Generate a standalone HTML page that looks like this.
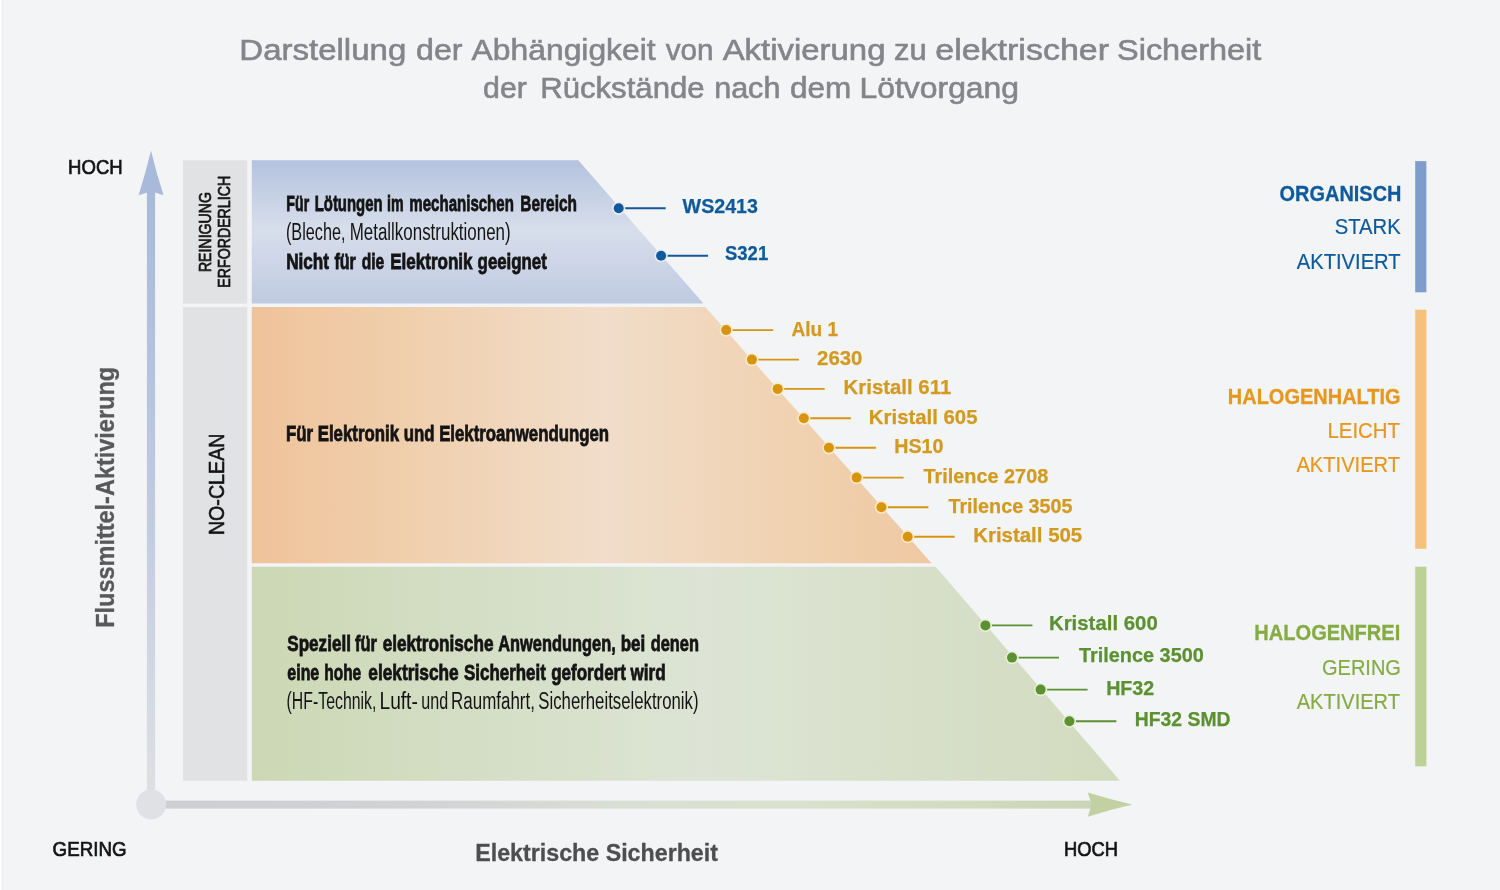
<!DOCTYPE html>
<html lang="de"><head><meta charset="utf-8"><title>Flussmittel</title>
<style>
html,body{margin:0;padding:0;background:#f3f4f6;}
body{width:1500px;height:890px;overflow:hidden;font-family:"Liberation Sans",sans-serif;}
svg{display:block;will-change:transform;}
text{font-family:"Liberation Sans",sans-serif;}
</style></head><body>
<svg width="1500" height="890" viewBox="0 0 1500 890">
<defs>
<linearGradient id="gBlue" x1="0" y1="0" x2="0" y2="1">
<stop offset="0" stop-color="#b3c2de"/><stop offset="0.25" stop-color="#c6d1e5"/><stop offset="0.48" stop-color="#d7deeb"/><stop offset="0.75" stop-color="#cbd4e7"/><stop offset="1" stop-color="#bfcae0"/>
</linearGradient>
<linearGradient id="gOr" gradientUnits="userSpaceOnUse" x1="252" y1="0" x2="935" y2="0">
<stop offset="0" stop-color="#efc39a"/><stop offset="0.27" stop-color="#f0d1b1"/><stop offset="0.51" stop-color="#f1ddca"/><stop offset="0.76" stop-color="#f0d3b3"/><stop offset="1" stop-color="#efc8a2"/>
</linearGradient>
<linearGradient id="gGr" gradientUnits="userSpaceOnUse" x1="252" y1="0" x2="1120" y2="0">
<stop offset="0" stop-color="#ccd8b5"/><stop offset="0.52" stop-color="#dde4d5"/><stop offset="1" stop-color="#d2dbbe"/>
</linearGradient>
<linearGradient id="gV" gradientUnits="userSpaceOnUse" x1="0" y1="190" x2="0" y2="800">
<stop offset="0" stop-color="#a9b9d9"/><stop offset="0.45" stop-color="#bcc8e0"/><stop offset="1" stop-color="#dfe0e3"/>
</linearGradient>
<linearGradient id="gH" gradientUnits="userSpaceOnUse" x1="160" y1="0" x2="1090" y2="0">
<stop offset="0" stop-color="#cdced1"/><stop offset="0.3" stop-color="#d2d3d5"/><stop offset="0.5" stop-color="#dadfd4"/><stop offset="0.68" stop-color="#dae1cd"/><stop offset="0.85" stop-color="#d3dbc1"/><stop offset="1" stop-color="#cbd4b6"/>
</linearGradient>
</defs>
<rect width="1500" height="890" fill="#f3f4f6"/>

<rect x="0" y="0" width="1" height="890" fill="#ffffff"/><rect x="1" y="0" width="1" height="890" fill="#f8f8fa"/><rect x="2" y="0" width="1.5" height="890" fill="#f0f0f3"/>
<rect x="183" y="160.3" width="64.2" height="143.3" fill="#e1e2e4"/>
<rect x="183" y="307.1" width="64.2" height="473.6" fill="#e1e2e4"/>
<polygon points="251.8,160.3 578.3,160.3 703.5,303.6 251.8,303.6" fill="url(#gBlue)"/>
<polygon points="251.8,307.1 705.3,307.1 931.6,563.2 251.8,563.2" fill="url(#gOr)"/>
<polygon points="251.8,566.8 935.7,566.8 1119.9,780.7 251.8,780.7" fill="url(#gGr)"/>
<rect x="146.9" y="190" width="8.2" height="612" fill="url(#gV)"/>
<path d="M151,150.8 Q156.4,173 163.5,195.3 L151,191.3 L138.6,195.3 Q145.6,173 151,150.8Z" fill="#a9b9d9"/>
<rect x="160" y="800.6" width="932" height="8" fill="url(#gH)"/>
<path d="M1132.4,804.6 Q1110,809.8 1087.7,816.7 L1091.7,804.6 L1087.7,792.5 Q1110,799.4 1132.4,804.6Z" fill="#c3d0a2"/>
<circle cx="151.2" cy="804.4" r="15" fill="#e0e1e4"/>
<line x1="618.7" y1="208.3" x2="665.7" y2="208.3" stroke="#12599b" stroke-width="1.9"/>
<circle cx="618.7" cy="208.3" r="6.6" fill="#e8eef7"/>
<circle cx="618.7" cy="208.3" r="5" fill="#12599b"/>
<line x1="661.1" y1="255.7" x2="708.1" y2="255.7" stroke="#12599b" stroke-width="1.9"/>
<circle cx="661.1" cy="255.7" r="6.6" fill="#e8eef7"/>
<circle cx="661.1" cy="255.7" r="5" fill="#12599b"/>
<line x1="726.2" y1="330.1" x2="773.2" y2="330.1" stroke="#d6940f" stroke-width="1.9"/>
<circle cx="726.2" cy="330.1" r="6.6" fill="#fbe9c8"/>
<circle cx="726.2" cy="330.1" r="5" fill="#d6940f"/>
<line x1="751.9" y1="359.6" x2="798.9" y2="359.6" stroke="#d6940f" stroke-width="1.9"/>
<circle cx="751.9" cy="359.6" r="6.6" fill="#fbe9c8"/>
<circle cx="751.9" cy="359.6" r="5" fill="#d6940f"/>
<line x1="777.7" y1="388.9" x2="824.7" y2="388.9" stroke="#d6940f" stroke-width="1.9"/>
<circle cx="777.7" cy="388.9" r="6.6" fill="#fbe9c8"/>
<circle cx="777.7" cy="388.9" r="5" fill="#d6940f"/>
<line x1="803.8" y1="418.3" x2="850.8" y2="418.3" stroke="#d6940f" stroke-width="1.9"/>
<circle cx="803.8" cy="418.3" r="6.6" fill="#fbe9c8"/>
<circle cx="803.8" cy="418.3" r="5" fill="#d6940f"/>
<line x1="828.9" y1="447.8" x2="875.9" y2="447.8" stroke="#d6940f" stroke-width="1.9"/>
<circle cx="828.9" cy="447.8" r="6.6" fill="#fbe9c8"/>
<circle cx="828.9" cy="447.8" r="5" fill="#d6940f"/>
<line x1="856.6" y1="477.6" x2="903.6" y2="477.6" stroke="#d6940f" stroke-width="1.9"/>
<circle cx="856.6" cy="477.6" r="6.6" fill="#fbe9c8"/>
<circle cx="856.6" cy="477.6" r="5" fill="#d6940f"/>
<line x1="881.4" y1="507.2" x2="928.4" y2="507.2" stroke="#d6940f" stroke-width="1.9"/>
<circle cx="881.4" cy="507.2" r="6.6" fill="#fbe9c8"/>
<circle cx="881.4" cy="507.2" r="5" fill="#d6940f"/>
<line x1="907.7" y1="536.7" x2="954.7" y2="536.7" stroke="#d6940f" stroke-width="1.9"/>
<circle cx="907.7" cy="536.7" r="6.6" fill="#fbe9c8"/>
<circle cx="907.7" cy="536.7" r="5" fill="#d6940f"/>
<line x1="985.4" y1="625.4" x2="1032.4" y2="625.4" stroke="#5b9130" stroke-width="1.9"/>
<circle cx="985.4" cy="625.4" r="6.6" fill="#e6efd8"/>
<circle cx="985.4" cy="625.4" r="5" fill="#5b9130"/>
<line x1="1012" y1="657.6" x2="1059" y2="657.6" stroke="#5b9130" stroke-width="1.9"/>
<circle cx="1012" cy="657.6" r="6.6" fill="#e6efd8"/>
<circle cx="1012" cy="657.6" r="5" fill="#5b9130"/>
<line x1="1040.6" y1="689.6" x2="1087.6" y2="689.6" stroke="#5b9130" stroke-width="1.9"/>
<circle cx="1040.6" cy="689.6" r="6.6" fill="#e6efd8"/>
<circle cx="1040.6" cy="689.6" r="5" fill="#5b9130"/>
<line x1="1069.4" y1="721.2" x2="1116.4" y2="721.2" stroke="#5b9130" stroke-width="1.9"/>
<circle cx="1069.4" cy="721.2" r="6.6" fill="#e6efd8"/>
<circle cx="1069.4" cy="721.2" r="5" fill="#5b9130"/>
<text x="239.31" y="60.0" font-size="30.14" font-weight="400" fill="#838588" stroke="#838588" stroke-width="0.6" textLength="166.97" lengthAdjust="spacingAndGlyphs">Darstellung</text>
<text x="416.01" y="60.0" font-size="30.14" font-weight="400" fill="#838588" stroke="#838588" stroke-width="0.6" textLength="46.49" lengthAdjust="spacingAndGlyphs">der</text>
<text x="471.64" y="60.0" font-size="30.14" font-weight="400" fill="#838588" stroke="#838588" stroke-width="0.6" textLength="184.0" lengthAdjust="spacingAndGlyphs">Abhängigkeit</text>
<text x="665.71" y="60.0" font-size="30.14" font-weight="400" fill="#838588" stroke="#838588" stroke-width="0.6" textLength="47.85" lengthAdjust="spacingAndGlyphs">von</text>
<text x="722.65" y="60.0" font-size="30.14" font-weight="400" fill="#838588" stroke="#838588" stroke-width="0.6" textLength="162.85" lengthAdjust="spacingAndGlyphs">Aktivierung</text>
<text x="893.97" y="60.0" font-size="30.14" font-weight="400" fill="#838588" stroke="#838588" stroke-width="0.6" textLength="32.74" lengthAdjust="spacingAndGlyphs">zu</text>
<text x="935.26" y="60.0" font-size="30.14" font-weight="400" fill="#838588" stroke="#838588" stroke-width="0.6" textLength="173.77" lengthAdjust="spacingAndGlyphs">elektrischer</text>
<text x="1117.04" y="60.0" font-size="30.14" font-weight="400" fill="#838588" stroke="#838588" stroke-width="0.6" textLength="144.31" lengthAdjust="spacingAndGlyphs">Sicherheit</text>
<text x="483.14" y="97.6" font-size="30.14" font-weight="400" fill="#838588" stroke="#838588" stroke-width="0.6" textLength="43.78" lengthAdjust="spacingAndGlyphs">der</text>
<text x="540.18" y="97.6" font-size="30.14" font-weight="400" fill="#838588" stroke="#838588" stroke-width="0.6" textLength="164.43" lengthAdjust="spacingAndGlyphs">Rückstände</text>
<text x="714.15" y="97.6" font-size="30.14" font-weight="400" fill="#838588" stroke="#838588" stroke-width="0.6" textLength="66.24" lengthAdjust="spacingAndGlyphs">nach</text>
<text x="789.97" y="97.6" font-size="30.14" font-weight="400" fill="#838588" stroke="#838588" stroke-width="0.6" textLength="61.24" lengthAdjust="spacingAndGlyphs">dem</text>
<text x="859.47" y="97.6" font-size="30.14" font-weight="400" fill="#838588" stroke="#838588" stroke-width="0.6" textLength="159.64" lengthAdjust="spacingAndGlyphs">Lötvorgang</text>
<text x="68.06" y="174.0" font-size="20.43" font-weight="400" fill="#141414" stroke="#141414" stroke-width="0.7" textLength="54.64" lengthAdjust="spacingAndGlyphs">HOCH</text>
<text x="52.61" y="855.7" font-size="20.43" font-weight="400" fill="#141414" stroke="#141414" stroke-width="0.7" textLength="73.85" lengthAdjust="spacingAndGlyphs">GERING</text>
<text x="1064.09" y="855.5" font-size="20.43" font-weight="400" fill="#141414" stroke="#141414" stroke-width="0.7" textLength="54.03" lengthAdjust="spacingAndGlyphs">HOCH</text>
<text x="475.24" y="861.0" font-size="24.78" font-weight="700" fill="#4d4e50" stroke="#4d4e50" stroke-width="0.3" textLength="242.75" lengthAdjust="spacingAndGlyphs">Elektrische Sicherheit</text>
<text transform="translate(113.7,626.40) rotate(-90)" x="-1.42" y="0" font-size="25.51" font-weight="700" fill="#58595b" stroke="#58595b" stroke-width="0.3" textLength="260.88" lengthAdjust="spacingAndGlyphs">Flussmittel-Aktivierung</text>
<text transform="translate(224.3,533.70) rotate(-90)" x="-1.42" y="0" font-size="22.61" font-weight="400" fill="#141414" stroke="#141414" stroke-width="0.6" textLength="101.57" lengthAdjust="spacingAndGlyphs">NO-CLEAN</text>
<text transform="translate(211.0,271.10) rotate(-90)" x="-0.98" y="0" font-size="16.67" font-weight="400" fill="#141414" stroke="#141414" stroke-width="0.7" textLength="80.01" lengthAdjust="spacingAndGlyphs">REINIGUNG</text>
<text transform="translate(229.8,286.70) rotate(-90)" x="-0.99" y="0" font-size="16.67" font-weight="400" fill="#141414" stroke="#141414" stroke-width="0.7" textLength="111.83" lengthAdjust="spacingAndGlyphs">ERFORDERLICH</text>
<text x="285.97" y="440.5" font-size="22.46" font-weight="700" fill="#141414" stroke="#141414" stroke-width="0.8" textLength="323.16" lengthAdjust="spacingAndGlyphs">Für Elektronik und Elektroanwendungen</text>
<text x="286.35" y="210.7" font-size="22.46" font-weight="700" fill="#141414" stroke="#141414" stroke-width="0.8" textLength="22.79" lengthAdjust="spacingAndGlyphs">Für</text>
<text x="314.69" y="210.7" font-size="22.46" font-weight="700" fill="#141414" stroke="#141414" stroke-width="0.8" textLength="67.88" lengthAdjust="spacingAndGlyphs">Lötungen</text>
<text x="387.09" y="210.7" font-size="22.46" font-weight="700" fill="#141414" stroke="#141414" stroke-width="0.8" textLength="16.59" lengthAdjust="spacingAndGlyphs">im</text>
<text x="409.37" y="210.7" font-size="22.46" font-weight="700" fill="#141414" stroke="#141414" stroke-width="0.8" textLength="104.5" lengthAdjust="spacingAndGlyphs">mechanischen</text>
<text x="520.35" y="210.7" font-size="22.46" font-weight="700" fill="#141414" stroke="#141414" stroke-width="0.8" textLength="56.65" lengthAdjust="spacingAndGlyphs">Bereich</text>
<text x="285.94" y="240.0" font-size="23.77" font-weight="400" fill="#141414" textLength="59.51" lengthAdjust="spacingAndGlyphs">(Bleche,</text>
<text x="349.67" y="240.0" font-size="23.77" font-weight="400" fill="#141414" textLength="160.98" lengthAdjust="spacingAndGlyphs">Metallkonstruktionen)</text>
<text x="286.13" y="268.8" font-size="22.46" font-weight="700" fill="#141414" stroke="#141414" stroke-width="0.8" textLength="42.85" lengthAdjust="spacingAndGlyphs">Nicht</text>
<text x="334.45" y="268.8" font-size="22.46" font-weight="700" fill="#141414" stroke="#141414" stroke-width="0.8" textLength="21.39" lengthAdjust="spacingAndGlyphs">für</text>
<text x="361.67" y="268.8" font-size="22.46" font-weight="700" fill="#141414" stroke="#141414" stroke-width="0.8" textLength="22.5" lengthAdjust="spacingAndGlyphs">die</text>
<text x="390.13" y="268.8" font-size="22.46" font-weight="700" fill="#141414" stroke="#141414" stroke-width="0.8" textLength="82.44" lengthAdjust="spacingAndGlyphs">Elektronik</text>
<text x="477.60" y="268.8" font-size="22.46" font-weight="700" fill="#141414" stroke="#141414" stroke-width="0.8" textLength="69.23" lengthAdjust="spacingAndGlyphs">geeignet</text>
<text x="287.25" y="650.6" font-size="22.46" font-weight="700" fill="#141414" stroke="#141414" stroke-width="0.8" textLength="63.67" lengthAdjust="spacingAndGlyphs">Speziell</text>
<text x="355.05" y="650.6" font-size="22.46" font-weight="700" fill="#141414" stroke="#141414" stroke-width="0.8" textLength="21.9" lengthAdjust="spacingAndGlyphs">für</text>
<text x="382.67" y="650.6" font-size="22.46" font-weight="700" fill="#141414" stroke="#141414" stroke-width="0.8" textLength="110.78" lengthAdjust="spacingAndGlyphs">elektronische</text>
<text x="498.28" y="650.6" font-size="22.46" font-weight="700" fill="#141414" stroke="#141414" stroke-width="0.8" textLength="117.43" lengthAdjust="spacingAndGlyphs">Anwendungen,</text>
<text x="620.76" y="650.6" font-size="22.46" font-weight="700" fill="#141414" stroke="#141414" stroke-width="0.8" textLength="24.48" lengthAdjust="spacingAndGlyphs">bei</text>
<text x="650.64" y="650.6" font-size="22.46" font-weight="700" fill="#141414" stroke="#141414" stroke-width="0.8" textLength="48.29" lengthAdjust="spacingAndGlyphs">denen</text>
<text x="287.34" y="680.0" font-size="22.46" font-weight="700" fill="#141414" stroke="#141414" stroke-width="0.8" textLength="31.92" lengthAdjust="spacingAndGlyphs">eine</text>
<text x="324.24" y="680.0" font-size="22.46" font-weight="700" fill="#141414" stroke="#141414" stroke-width="0.8" textLength="36.99" lengthAdjust="spacingAndGlyphs">hohe</text>
<text x="368.29" y="680.0" font-size="22.46" font-weight="700" fill="#141414" stroke="#141414" stroke-width="0.8" textLength="90.42" lengthAdjust="spacingAndGlyphs">elektrische</text>
<text x="464.05" y="680.0" font-size="22.46" font-weight="700" fill="#141414" stroke="#141414" stroke-width="0.8" textLength="81.71" lengthAdjust="spacingAndGlyphs">Sicherheit</text>
<text x="551.19" y="680.0" font-size="22.46" font-weight="700" fill="#141414" stroke="#141414" stroke-width="0.8" textLength="74.72" lengthAdjust="spacingAndGlyphs">gefordert</text>
<text x="630.60" y="680.0" font-size="22.46" font-weight="700" fill="#141414" stroke="#141414" stroke-width="0.8" textLength="35.07" lengthAdjust="spacingAndGlyphs">wird</text>
<text x="286.60" y="709.3" font-size="23.77" font-weight="400" fill="#141414" textLength="89.77" lengthAdjust="spacingAndGlyphs">(HF-Technik,</text>
<text x="379.49" y="709.3" font-size="23.77" font-weight="400" fill="#141414" textLength="38.35" lengthAdjust="spacingAndGlyphs">Luft-</text>
<text x="421.24" y="709.3" font-size="23.77" font-weight="400" fill="#141414" textLength="26.89" lengthAdjust="spacingAndGlyphs">und</text>
<text x="451.09" y="709.3" font-size="23.77" font-weight="400" fill="#141414" textLength="83.82" lengthAdjust="spacingAndGlyphs">Raumfahrt,</text>
<text x="538.30" y="709.3" font-size="23.77" font-weight="400" fill="#141414" textLength="160.19" lengthAdjust="spacingAndGlyphs">Sicherheitselektronik)</text>
<text x="682.62" y="212.60000000000002" font-size="20.36" font-weight="700" fill="#0e5a9b" stroke="#0e5a9b" stroke-width="0.25" textLength="75.33" lengthAdjust="spacingAndGlyphs">WS2413</text>
<text x="724.99" y="260.2" font-size="20.36" font-weight="700" fill="#0e5a9b" stroke="#0e5a9b" stroke-width="0.25" textLength="43.19" lengthAdjust="spacingAndGlyphs">S321</text>
<text x="791.51" y="335.6" font-size="20.36" font-weight="700" fill="#d29a20" stroke="#d29a20" stroke-width="0.25" textLength="46.72" lengthAdjust="spacingAndGlyphs">Alu 1</text>
<text x="817.06" y="365.1" font-size="20.36" font-weight="700" fill="#d29a20" stroke="#d29a20" stroke-width="0.25" textLength="45.34" lengthAdjust="spacingAndGlyphs">2630</text>
<text x="843.58" y="394.4" font-size="20.36" font-weight="700" fill="#d29a20" stroke="#d29a20" stroke-width="0.25" textLength="107.64" lengthAdjust="spacingAndGlyphs">Kristall 611</text>
<text x="868.86" y="423.8" font-size="20.36" font-weight="700" fill="#d29a20" stroke="#d29a20" stroke-width="0.25" textLength="108.62" lengthAdjust="spacingAndGlyphs">Kristall 605</text>
<text x="894.26" y="453.3" font-size="20.36" font-weight="700" fill="#d29a20" stroke="#d29a20" stroke-width="0.25" textLength="49.18" lengthAdjust="spacingAndGlyphs">HS10</text>
<text x="923.53" y="483.1" font-size="20.36" font-weight="700" fill="#d29a20" stroke="#d29a20" stroke-width="0.25" textLength="124.7" lengthAdjust="spacingAndGlyphs">Trilence 2708</text>
<text x="948.43" y="512.7" font-size="20.36" font-weight="700" fill="#d29a20" stroke="#d29a20" stroke-width="0.25" textLength="124.15" lengthAdjust="spacingAndGlyphs">Trilence 3505</text>
<text x="973.25" y="542.2" font-size="20.36" font-weight="700" fill="#d29a20" stroke="#d29a20" stroke-width="0.25" textLength="108.95" lengthAdjust="spacingAndGlyphs">Kristall 505</text>
<text x="1048.96" y="630.0" font-size="20.36" font-weight="700" fill="#5b9130" stroke="#5b9130" stroke-width="0.25" textLength="108.81" lengthAdjust="spacingAndGlyphs">Kristall 600</text>
<text x="1079.03" y="662.4" font-size="20.36" font-weight="700" fill="#5b9130" stroke="#5b9130" stroke-width="0.25" textLength="124.8" lengthAdjust="spacingAndGlyphs">Trilence 3500</text>
<text x="1106.14" y="694.6" font-size="20.36" font-weight="700" fill="#5b9130" stroke="#5b9130" stroke-width="0.25" textLength="48.15" lengthAdjust="spacingAndGlyphs">HF32</text>
<text x="1134.78" y="726.4000000000001" font-size="20.36" font-weight="700" fill="#5b9130" stroke="#5b9130" stroke-width="0.25" textLength="95.77" lengthAdjust="spacingAndGlyphs">HF32 SMD</text>
<text x="1279.61" y="200.6" font-size="22.17" font-weight="700" fill="#0e5a9b" stroke="#0e5a9b" stroke-width="0.3" textLength="121.82" lengthAdjust="spacingAndGlyphs">ORGANISCH</text>
<text x="1334.72" y="234.0" font-size="22.03" font-weight="400" fill="#0e5a9b" stroke="#0e5a9b" stroke-width="0.2" textLength="66.01" lengthAdjust="spacingAndGlyphs">STARK</text>
<text x="1296.75" y="268.6" font-size="22.03" font-weight="400" fill="#0e5a9b" stroke="#0e5a9b" stroke-width="0.2" textLength="103.88" lengthAdjust="spacingAndGlyphs">AKTIVIERT</text>
<text x="1227.81" y="403.5" font-size="21.59" font-weight="700" fill="#e7971d" stroke="#e7971d" stroke-width="0.3" textLength="172.82" lengthAdjust="spacingAndGlyphs">HALOGENHALTIG</text>
<text x="1327.42" y="438.0" font-size="21.74" font-weight="400" fill="#e7971d" stroke="#e7971d" stroke-width="0.2" textLength="72.6" lengthAdjust="spacingAndGlyphs">LEICHT</text>
<text x="1296.45" y="472.0" font-size="21.74" font-weight="400" fill="#e7971d" stroke="#e7971d" stroke-width="0.2" textLength="103.64" lengthAdjust="spacingAndGlyphs">AKTIVIERT</text>
<text x="1254.30" y="640.3" font-size="21.59" font-weight="700" fill="#86ab44" stroke="#86ab44" stroke-width="0.3" textLength="146.0" lengthAdjust="spacingAndGlyphs">HALOGENFREI</text>
<text x="1322.04" y="674.6" font-size="21.74" font-weight="400" fill="#86ab44" stroke="#86ab44" stroke-width="0.2" textLength="78.91" lengthAdjust="spacingAndGlyphs">GERING</text>
<text x="1296.76" y="709.1" font-size="21.74" font-weight="400" fill="#86ab44" stroke="#86ab44" stroke-width="0.2" textLength="103.21" lengthAdjust="spacingAndGlyphs">AKTIVIERT</text>
<rect x="1415.2" y="161.1" width="11.2" height="131.2" fill="#7f9dcb"/>
<rect x="1415.2" y="309.7" width="11.2" height="239.1" fill="#f5c27e"/>
<rect x="1415.2" y="566.7" width="11.2" height="199.6" fill="#bcd196"/>
</svg></body></html>
